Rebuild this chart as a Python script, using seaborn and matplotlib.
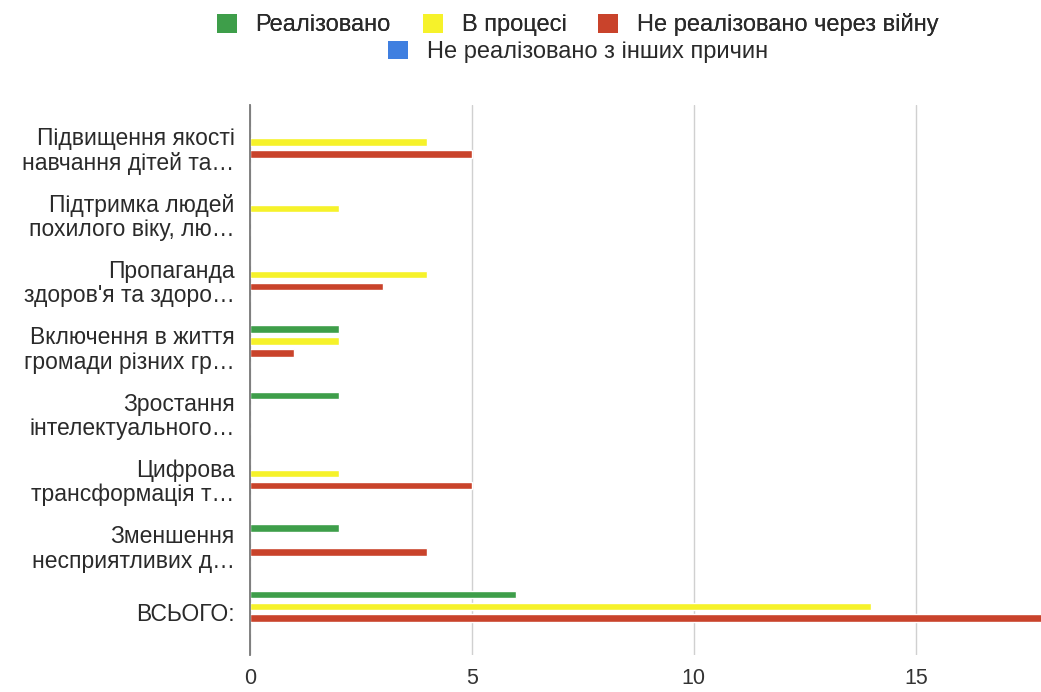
import matplotlib
matplotlib.use("Agg")
import matplotlib.pyplot as plt
from matplotlib.patches import Patch
import seaborn as sns
import pandas as pd

categories = [
    "Підвищення якості\nнавчання дітей та…",
    "Підтримка людей\nпохилого віку, лю…",
    "Пропаганда\nздоров'я та здоро…",
    "Включення в життя\nгромади різних гр…",
    "Зростання\nінтелектуального…",
    "Цифрова\nтрансформація т…",
    "Зменшення\nнесприятливих д…",
    "ВСЬОГО:",
]
series = ["Реалізовано", "В процесі", "Не реалізовано через війну",
          "Не реалізовано з інших причин"]
realized = [0, 0, 0, 2, 2, 0, 2, 6]
in_progress = [4, 2, 4, 2, 0, 2, 0, 14]
not_war = [5, 0, 3, 1, 0, 5, 4, 18]
not_other = [0, 0, 0, 0, 0, 0, 0, 0]
colors = ["#3e9e4a", "#f6f22a", "#c9432b", "#3f7fe0"]

rows = []
for name, vals in zip(series, [realized, in_progress, not_war, not_other]):
    for c, v in zip(categories, vals):
        rows.append({"cat": c, "series": name, "value": v})
df = pd.DataFrame(rows)

sns.set_theme(style="white")
plt.rcParams["font.family"] = ["Liberation Sans", "DejaVu Sans"]

fig = plt.figure(figsize=(10.41, 6.92), dpi=100)
ax = fig.add_axes([0.240, 0.053, 0.760, 0.795])

sns.barplot(data=df, y="cat", x="value", hue="series", order=categories,
            hue_order=series, palette=colors, orient="h", width=0.72,
            gap=0.38, ax=ax, legend=False, saturation=1)

ax.set_xlim(0, 17.82)
ax.set_ylim(7.65, -0.643)
ax.set_xticks([0, 5, 10, 15])
ax.set_xlabel("")
ax.set_ylabel("")
ax.grid(axis="x", color="#d0d0d0", linewidth=1)
ax.set_axisbelow(True)
for s in ["top", "right", "bottom"]:
    ax.spines[s].set_visible(False)
ax.spines["left"].set_color("#777777")
ax.spines["left"].set_linewidth(1.3)
ax.spines["left"].set_zorder(5)
ax.tick_params(axis="both", length=0)
ax.tick_params(axis="y", pad=11, labelsize=16.5, labelcolor="#2a2a2a")
ax.tick_params(axis="x", pad=9, labelsize=15.5, labelcolor="#333333")
for lbl in ax.get_yticklabels():
    lbl.set_linespacing(1.08)
    lbl.set_horizontalalignment("right")

handles = [Patch(facecolor=c, edgecolor="none") for c in colors]
leg1 = fig.legend(handles[:3], series[:3], loc="center", ncol=3,
                  bbox_to_anchor=(0.555, 0.964), frameon=False,
                  fontsize=17, handlelength=0.85, handleheight=0.85,
                  columnspacing=1.35, handletextpad=0.8,
                  labelcolor="#2a2a2a")
leg2 = fig.legend(handles[3:], series[3:], loc="center", ncol=1,
                  bbox_to_anchor=(0.555, 0.925), frameon=False,
                  fontsize=17, handlelength=0.85, handleheight=0.85,
                  handletextpad=0.8, labelcolor="#2a2a2a")
fig.add_artist(leg1)

fig.savefig("out.png", dpi=100, facecolor="white")
